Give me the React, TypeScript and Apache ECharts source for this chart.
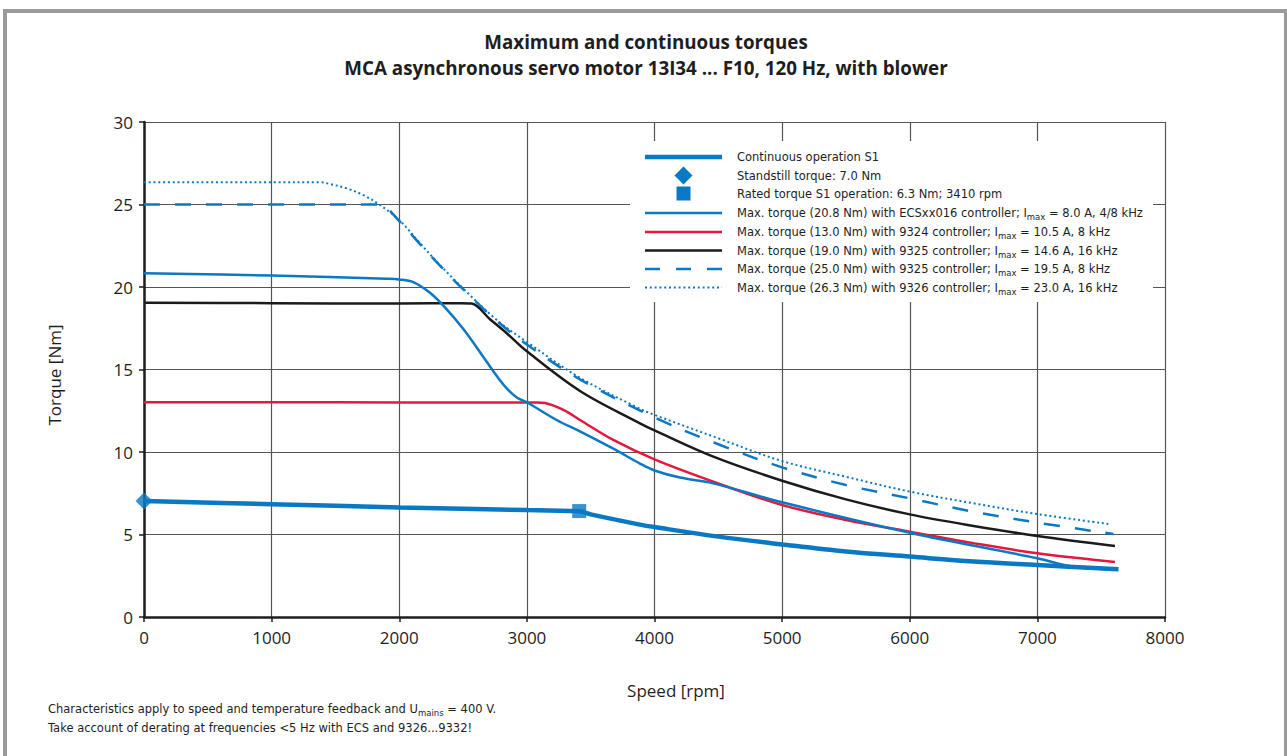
import React, { useEffect, useRef } from "react";
import * as echarts from "echarts";

// ---------- data (speed [rpm], torque [Nm]) ----------
const speedTicks = [0, 1000, 2000, 3000, 4000, 5000, 6000, 7000, 8000];
const torqueTicks = [0, 5, 10, 15, 20, 25, 30];

const continuousS1: [number, number][] = [
  [0, 7.03], [1000, 6.84], [2000, 6.64], [3000, 6.48], [3340, 6.43], [3410, 6.41],
  [3500, 6.22], [3886, 5.6], [4000, 5.45], [4500, 4.87], [5000, 4.4], [5500, 3.97],
  [6000, 3.66], [6500, 3.36], [7000, 3.15], [7636, 2.89],
];
const standstill: [number, number][] = [[0, 7.03]];
const ratedS1: [number, number][] = [[3410, 6.42]];

const maxEcs: [number, number][] = [
  [0, 20.83], [1000, 20.69], [1900, 20.5], [2000, 20.46], [2110, 20.3], [2241, 19.65],
  [2360, 18.75], [2502, 17.45], [2633, 16.05], [2764, 14.6], [2842, 13.85],
  [2921, 13.3], [3003, 13.0], [3233, 11.94], [3416, 11.25], [3677, 10.2],
  [3886, 9.3], [4000, 8.88], [4200, 8.45], [4461, 8.1], [5000, 6.95],
  [6000, 5.11], [7000, 3.56], [7281, 3.05], [7620, 2.89],
];
const max9324: [number, number][] = [
  [0, 13.02], [1000, 13.02], [2000, 13.0], [3000, 13.0], [3080, 13.0], [3142, 12.97],
  [3286, 12.55], [3416, 11.94], [3677, 10.73], [4000, 9.55], [4461, 8.2],
  [5000, 6.79], [5500, 5.88], [6000, 5.17], [6500, 4.47], [7000, 3.86],
  [7608, 3.33],
];
const max9325a: [number, number][] = [
  [0, 19.05], [1000, 19.02], [2000, 19.0], [2490, 19.02], [2567, 19.0], [2711, 18.05],
  [2842, 17.2], [3000, 16.1], [3416, 13.7], [3886, 11.74], [4000, 11.31],
  [4461, 9.72], [5000, 8.26], [5500, 7.13], [6000, 6.22], [6500, 5.52],
  [7000, 4.91], [7608, 4.3],
];
const max9325b: [number, number][] = [
  [0, 25.0], [1000, 25.0], [1780, 25.0], [1850, 24.98], [2000, 24.0], [2163, 22.6],
  [2319, 21.3], [2502, 19.85], [2764, 17.95], [3003, 16.5], [3416, 14.4],
  [4000, 12.1], [4500, 10.47], [5000, 9.07], [5500, 8.0], [6000, 7.19],
  [6500, 6.38], [7000, 5.72], [7596, 5.03],
];
const max9326: [number, number][] = [
  [0, 26.35], [1000, 26.35], [1380, 26.35], [1457, 26.24], [1588, 25.98],
  [1719, 25.57], [1849, 24.97], [2000, 24.06], [2163, 22.65], [2319, 21.33],
  [2502, 19.9], [2764, 18.0], [3003, 16.65], [3416, 14.5], [3886, 12.62],
  [4000, 12.25], [4500, 10.83], [5000, 9.45], [5500, 8.5], [6000, 7.6],
  [6500, 6.89], [7000, 6.24], [7556, 5.64],
];

const legendLabels = [
  "Continuous operation S1",
  "Standstill torque: 7.0 Nm",
  "Rated torque S1 operation: 6.3 Nm; 3410 rpm",
  "Max. torque (20.8 Nm) with ECSxx016 controller; I{sub|max} = 8.0 A, 4/8 kHz",
  "Max. torque (13.0 Nm) with 9324 controller; I{sub|max} = 10.5 A, 8 kHz",
  "Max. torque (19.0 Nm) with 9325 controller; I{sub|max} = 14.6 A, 16 kHz",
  "Max. torque (25.0 Nm) with 9325 controller; I{sub|max} = 19.5 A, 8 kHz",
  "Max. torque (26.3 Nm) with 9326 controller; I{sub|max} = 23.0 A, 16 kHz",
];
const titleLines = [
  "Maximum and continuous torques",
  "MCA asynchronous servo motor 13I34 ... F10, 120 Hz, with blower",
];
const footnotes = [
  "Characteristics apply to speed and temperature feedback and U{sub|mains} = 400 V.",
  "Take account of derating at frequencies <5 Hz with ECS and 9326...9332!",
];
const xName = "Speed [rpm]";
const yName = "Torque [Nm]";

// ---------- styles ----------
const FONT = "'Open Sans', 'Noto Sans', sans-serif";
const SMALL_FONT = "'DejaVu Sans', 'Open Sans', sans-serif";
const BLUE = "#0a78c2";
const RED = "#e5173f";
const BLACK = "#1b1b1b";
const TXT = "#1e1e1e";
const GRID = "#555";

export default function App() {
  const ref = useRef<HTMLDivElement>(null);

  useEffect(() => {
    if (!ref.current) return;
    const chart = echarts.init(ref.current, undefined, { renderer: "svg" });

    const lineSeries = (name: string, data: [number, number][], color: string, width: number, type: any, z = 3) => ({
      name,
      type: "line",
      data,
      smooth: 0.35,
      symbol: "none",
      z,
      lineStyle: { color, width, type, cap: "butt" },
      emphasis: { disabled: true },
    });

    const rowsY = [157, 175.5, 193.5, 213, 232, 250.5, 269, 287.5];
    const sx1 = 645, sx2 = 722, scx = 683.5, tx = 737;
    const sampleStyles = [
      { stroke: BLUE, lineWidth: 4.5 },
      null,
      null,
      { stroke: BLUE, lineWidth: 2.5 },
      { stroke: RED, lineWidth: 2.5 },
      { stroke: BLACK, lineWidth: 2.5 },
      { stroke: BLUE, lineWidth: 2.5, lineDash: [15, 16] },
      { stroke: BLUE, lineWidth: 2, lineDash: [2, 2.8] },
    ];
    const subRich = { sub: { fontSize: 8.5, lineHeight: 10, verticalAlign: "bottom", fontFamily: SMALL_FONT, fill: TXT } };

    const legendEls: any[] = [
      { type: "rect", z: 100, shape: { x: 630, y: 141, width: 523, height: 161 }, style: { fill: "#fff" } },
    ];
    rowsY.forEach((y, i) => {
      const st = sampleStyles[i];
      if (st) {
        legendEls.push({ type: "line", z: 101, shape: { x1: sx1, y1: y, x2: sx2, y2: y }, style: { ...st } });
      } else if (i === 1) {
        legendEls.push({
          type: "polygon", z: 101,
          shape: { points: [[scx - 9, y], [scx, y - 9], [scx + 9, y], [scx, y + 9]] },
          style: { fill: BLUE },
        });
      } else {
        legendEls.push({ type: "rect", z: 101, shape: { x: scx - 7, y: y - 7, width: 14, height: 14 }, style: { fill: BLUE } });
      }
      legendEls.push({
        type: "text", z: 101, x: tx, y,
        style: {
          text: legendLabels[i], fill: TXT, fontSize: 11.5, fontFamily: SMALL_FONT, lineHeight: 17,
          align: "left", verticalAlign: "middle", rich: subRich,
        },
      });
    });

    const frame = [
      { type: "rect", z: 100, shape: { x: 3, y: 9, width: 1284, height: 4 }, style: { fill: "#9a9a9a" } },
      { type: "rect", z: 100, shape: { x: 3, y: 9, width: 4, height: 760 }, style: { fill: "#9a9a9a" } },
      { type: "rect", z: 100, shape: { x: 1284, y: 9, width: 3, height: 760 }, style: { fill: "#9a9a9a" } },
    ];

    const texts = [
      ...titleLines.map((t, i) => ({
        type: "text", z: 100, x: 646, y: 42 + i * 26,
        style: { text: t, fill: TXT, fontSize: 18.8, fontWeight: "bold", fontFamily: FONT, align: "center", verticalAlign: "middle" },
      })),
      {
        type: "text", z: 100, x: 676, y: 690,
        style: { text: xName, fill: TXT, fontSize: 17, fontFamily: FONT, align: "center", verticalAlign: "middle" },
      },
      {
        type: "text", z: 100, x: 54, y: 375, rotation: Math.PI / 2,
        style: { text: yName, fill: TXT, fontSize: 17, fontFamily: FONT, align: "center", verticalAlign: "middle" },
      },
      ...footnotes.map((t, i) => ({
        type: "text", z: 100, x: 48, y: 709 + i * 19,
        style: {
          text: t, fill: TXT, fontSize: 11.5, fontFamily: SMALL_FONT, lineHeight: 17, align: "left", verticalAlign: "middle",
          rich: subRich,
        },
      })),
    ];

    chart.setOption({
      animation: false,
      backgroundColor: "#fff",
      grid: { left: 144, right: 122, top: 122, bottom: 139, containLabel: false },
      xAxis: {
        type: "value",
        min: speedTicks[0],
        max: speedTicks[speedTicks.length - 1],
        interval: speedTicks[1] - speedTicks[0],
        axisLine: { lineStyle: { color: TXT, width: 2.5 } },
        axisTick: { show: true, inside: false, length: 5, lineStyle: { color: TXT, width: 1.5 } },
        axisLabel: { fontSize: 17, color: TXT, fontFamily: FONT, margin: 12, formatter: (v: number) => String(v) },
        splitLine: { show: true, lineStyle: { color: GRID, width: 1.2 } },
      },
      yAxis: {
        type: "value",
        min: torqueTicks[0],
        max: torqueTicks[torqueTicks.length - 1],
        interval: torqueTicks[1] - torqueTicks[0],
        axisLine: { show: true, lineStyle: { color: TXT, width: 2.5 } },
        axisTick: { show: true, inside: false, length: 5, lineStyle: { color: TXT, width: 1.5 } },
        axisLabel: { fontSize: 17, color: TXT, fontFamily: FONT, margin: 11, formatter: (v: number) => String(v) },
        splitLine: { show: true, lineStyle: { color: GRID, width: 1.2 } },
      },
      series: [
        lineSeries("Max. torque (26.3 Nm) with 9326 controller", max9326, BLUE, 2, [2, 2.8]),
        lineSeries("Max. torque (25.0 Nm) with 9325 controller", max9325b, BLUE, 2.5, [16, 15]),
        lineSeries("Max. torque (19.0 Nm) with 9325 controller", max9325a, BLACK, 2.5, "solid"),
        lineSeries("Max. torque (13.0 Nm) with 9324 controller", max9324, RED, 2.5, "solid"),
        lineSeries("Max. torque (20.8 Nm) with ECSxx016 controller", maxEcs, BLUE, 2.5, "solid", 4),
        lineSeries("Continuous operation S1", continuousS1, BLUE, 4.5, "solid", 5),
        {
          name: "Standstill torque",
          type: "scatter",
          data: standstill,
          symbol: "diamond",
          symbolSize: 17,
          clip: false,
          z: 6,
          itemStyle: { color: BLUE },
        },
        {
          name: "Rated torque S1 operation",
          type: "scatter",
          data: ratedS1,
          symbol: "rect",
          symbolSize: 14,
          clip: false,
          z: 6,
          itemStyle: { color: BLUE },
        },
      ],
      graphic: { elements: [...frame, ...legendEls, ...texts] },
    });

    return () => chart.dispose();
  }, []);

  return (
    <div
      ref={ref}
      style={{ position: "fixed", left: 0, top: 0, width: 1287, height: 756, background: "#fff" }}
    />
  );
}
